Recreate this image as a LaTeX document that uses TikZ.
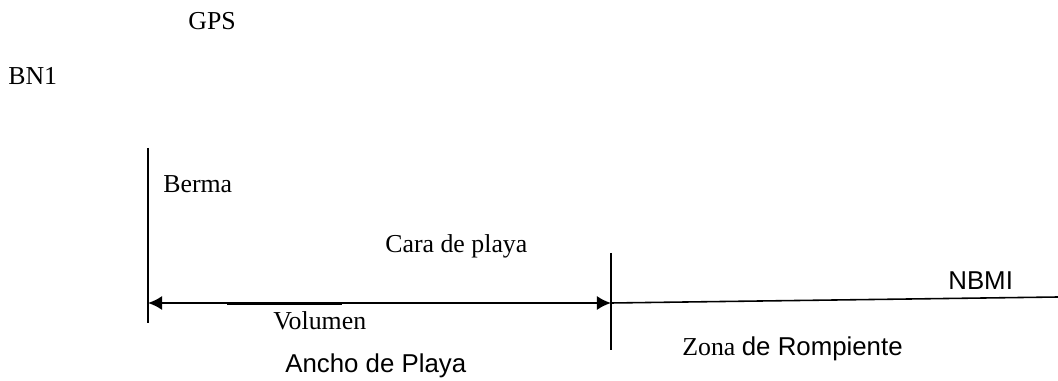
\documentclass[tikz,border=0pt]{standalone}
\usepackage{fontspec}
\setmainfont{Liberation Serif}
\setsansfont{Liberation Sans}
\usetikzlibrary{
  arrows.meta,
  positioning
}
\tikzset{>={Latex[length=8pt,width=8pt]}}
\tikzset{font=\fontsize{14.7}{17}\selectfont}
\tikzset{lbl/.style={anchor=base west, inner sep=0pt},
  sanslbl/.style={lbl, font=\fontsize{14.7}{17}\selectfont\sffamily}}

\begin{document}
\begin{tikzpicture}[x=0.02cm, y=-0.02cm]
          \useasboundingbox (0,0) rectangle (1058,381);
          \node[lbl] (gps) at (188,30) {GPS};
          \node[lbl] (bn) at (8,85) {BN1};
          % berma and cara de playa marks
          \coordinate (bermatop) at (148,148);
          \coordinate (bermabot) at (148,323);
          \coordinate (caratop) at (611,253);
          \coordinate (carabot) at (611,350);
          \draw[line width=0.7pt] (bermatop) -- (bermabot);
          \draw[line width=0.7pt] (caratop) -- (carabot);
          \coordinate (ancho0) at (148,303);
          \coordinate (ancho1) at (611,303);
          \draw[<->, line width=1.1pt] (ancho0) -- (ancho1);
          \coordinate (vol0) at (227,304);
          \coordinate (vol1) at (342,304);
          \draw[line width=1pt] (vol0) -- (vol1);
          \coordinate (mar) at (1058,297);
          \draw[line width=0.9pt] (ancho1) -- (mar);
          \node[lbl] (berma) at (163,193) {Berma};
          \node[lbl] (cara) at (385,253) {Cara de playa};
          \node[lbl] (volumen) at (273,330) {Volumen};
          \node[sanslbl] (ancho) at (285,373) {Ancho de Playa};
          \node[lbl] (zona) at (682,356) {Zona \sffamily de Rompiente};
          \node[sanslbl] (nbmi) at (948,290) {NBMI};
        \end{tikzpicture}
\end{document}
